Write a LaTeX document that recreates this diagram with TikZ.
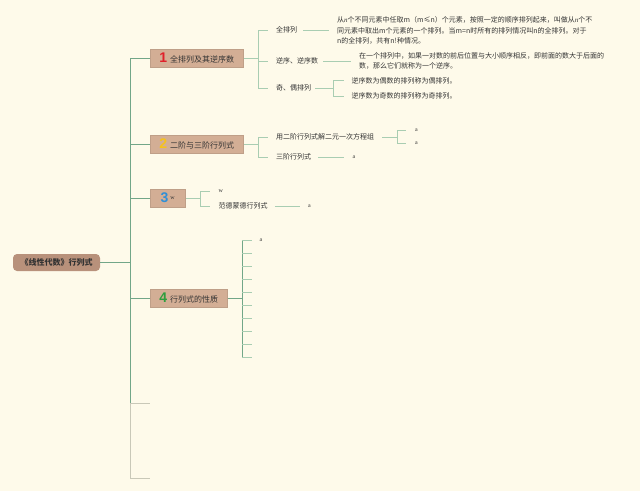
\documentclass[tikz,border=0pt]{standalone}
\usepackage{fontspec}
\setmainfont{Noto Sans CJK SC}
\newfontfamily\numfont{Liberation Sans}
\newfontfamily\serfont{Liberation Serif}
\definecolor{bg}{HTML}{FEFAEA}
\definecolor{rootfill}{HTML}{B8917B}
\definecolor{boxfill}{HTML}{D3AE95}
\definecolor{boxline}{HTML}{BF9F88}
\definecolor{trunk}{HTML}{72A688}
\definecolor{twig}{HTML}{A9CDB2}
\definecolor{grayline}{HTML}{C9C8B8}
\definecolor{txt}{HTML}{333333}
\definecolor{nred}{HTML}{E0202A}
\definecolor{nyel}{HTML}{F6C21C}
\definecolor{nblu}{HTML}{2F8FD6}
\definecolor{ngrn}{HTML}{2E9E3E}
\newcommand{\bignum}[2]{{\numfont\bfseries\fontsize{14}{14}\selectfont\color{#1}#2}}
\newcommand{\itn}[1]{{\serfont\itshape #1}}
\begin{document}
\begin{tikzpicture}[x=1pt,y=-1pt,
  rootbox/.style={fill=rootfill,rounded corners=4pt,minimum width=87pt,minimum height=17pt,inner sep=0pt,text=txt,font=\fontsize{8}{8}\selectfont\bfseries},
  brbox/.style={fill=boxfill,draw=boxline,line width=0.5pt,minimum height=17.5pt,inner xsep=3pt,inner ysep=0pt,anchor=west,text=txt,font=\fontsize{8}{8}\selectfont,align=left},
  child/.style={anchor=west,inner sep=0pt,text=txt,font=\fontsize{7}{8}\selectfont},
  desc/.style={anchor=west,inner sep=0pt,text=txt,font=\fontsize{7}{10.3}\selectfont,align=left},
  small/.style={anchor=west,inner sep=0pt,text=txt,font=\serfont\fontsize{6}{7}\selectfont},
  tr/.style={draw=trunk,line width=0.9pt},
  tw/.style={draw=twig,line width=0.8pt},
  gl/.style={draw=grayline,line width=0.8pt}]
\fill[bg] (0,0) rectangle (640,491);
\useasboundingbox (0,0) rectangle (640,491);

% root
\node[rootbox] (root) at (56.5,262.5) {《线性代数》行列式};
\coordinate (t) at (130,262.5);
\coordinate (ttop) at (130,58);
\coordinate (tmid) at (130,403);
\coordinate (tbot) at (130,478);

% branch boxes
\node[brbox,minimum width=93pt] (b1) at (150,58) {\bignum{nred}{1}\hspace{3pt}全排列及其逆序数};
\node[brbox,minimum width=93pt] (b2) at (150,144) {\bignum{nyel}{2}\hspace{3pt}二阶与三阶行列式};
\node[brbox,minimum width=35pt] (b3) at (150,198) {\bignum{nblu}{3}\hspace{2pt}{\serfont\fontsize{6}{7}\selectfont\raisebox{3pt}{w}}};
\node[brbox,minimum width=77pt] (b4) at (150,298) {\bignum{ngrn}{4}\hspace{3pt}行列式的性质};
\coordinate (e1) at (150,403);
\coordinate (e2) at (150,478);

% trunk
\draw[tr] (root.east) -- (t);
\draw[tr] (ttop) -- (tmid);
\draw[gl] (tmid) -- (tbot);
\draw[tr] (ttop) -- (b1.west);
\draw[tr] (b2.west -| t) -- (b2.west);
\draw[tr] (b3.west -| t) -- (b3.west);
\draw[tr] (b4.west -| t) -- (b4.west);
\draw[gl] (tmid) -- (e1);
\draw[gl] (tbot) -- (e2);

% ---------- branch 1 ----------
\node[child] (c11) at (276,30) {全排列};
\node[child] (c12) at (276,61) {逆序、逆序数};
\node[child] (c13) at (276,88) {奇、偶排列};
\coordinate (v1) at (258,58);
\draw[tw] (b1.east) -- (v1);
\draw[tw] (c11.west -| v1) -- (c13.west -| v1);
\foreach \c in {c11,c12,c13} \draw[tw] (\c.west -| v1) -- ++(10,0);

\node[desc] (d11) at (337,30.5) {从\itn{n}个不同元素中任取m（m≤n）个元素，按照一定的顺序排列起来，叫做从\itn{n}个不\\同元素中取出m个元素的一个排列。当m=n时所有的排列情况叫n的全排列。对于\\n的全排列，共有n!种情况。};
\draw[tw] ([xshift=6pt]c11.east) -- ([xshift=-8pt]d11.west |- c11.east);

\node[desc] (d12) at (359,61) {在一个排列中，如果一对数的前后位置与大小顺序相反，即前面的数大于后面的\\数，那么它们就称为一个逆序。};
\draw[tw] ([xshift=5pt]c12.east) -- ([xshift=-8pt]d12.west |- c12.east);

\coordinate (v13) at (333,88);
\node[child] (d131) at (351.5,80.5) {逆序数为偶数的排列称为偶排列。};
\node[child] (d132) at (351.5,96) {逆序数为奇数的排列称为奇排列。};
\draw[tw] ([xshift=4pt]c13.east) -- (v13);
\draw[tw] (d131.west -| v13) -- (d132.west -| v13);
\foreach \c in {d131,d132} \draw[tw] (\c.west -| v13) -- ++(11,0);

% ---------- branch 2 ----------
\coordinate (v2) at (258,144);
\node[child] (c21) at (276,137) {用二阶行列式解二元一次方程组};
\node[child] (c22) at (276,157) {三阶行列式};
\draw[tw] (b2.east) -- (v2);
\draw[tw] (c21.west -| v2) -- (c22.west -| v2);
\foreach \c in {c21,c22} \draw[tw] (\c.west -| v2) -- ++(10,0);

\coordinate (v21) at (397,137);
\node[small] (a211) at (415,130) {a};
\node[small] (a212) at (415,143) {a};
\draw[tw] ([xshift=8pt]c21.east) -- (v21);
\draw[tw] (a211.west -| v21) -- (a212.west -| v21);
\foreach \c in {a211,a212} \draw[tw] (\c.west -| v21) -- ++(9,0);

\node[small] (a22) at (352.5,157) {a};
\draw[tw] ([xshift=7pt]c22.east) -- ([xshift=-9pt]a22.west);

% ---------- branch 3 ----------
\coordinate (v3) at (200,198);
\node[small] (c31) at (218.5,191) {w};
\node[child] (c32) at (218.5,206) {范德蒙德行列式};
\draw[tw] (b3.east) -- (v3);
\draw[tw] (c31.west -| v3) -- (c32.west -| v3);
\foreach \c in {c31,c32} \draw[tw] (\c.west -| v3) -- ++(10,0);
\node[small] (a32) at (308,206) {a};
\draw[tw] ([xshift=7pt]c32.east) -- ([xshift=-8pt]a32.west);

% ---------- branch 4 ----------
\coordinate (v4) at (242,298);
\draw[tr] (b4.east) -- (v4);
\coordinate (s0) at (242,240);
\coordinate (s9) at (242,357);
\draw[tr] (s0) -- (s9);
\foreach \i in {0,...,9} \draw[tw] (242,{240+13*\i}) -- ++(10,0);
\node[small] (a40) at (259.5,240) {a};
\end{tikzpicture}
\end{document}
